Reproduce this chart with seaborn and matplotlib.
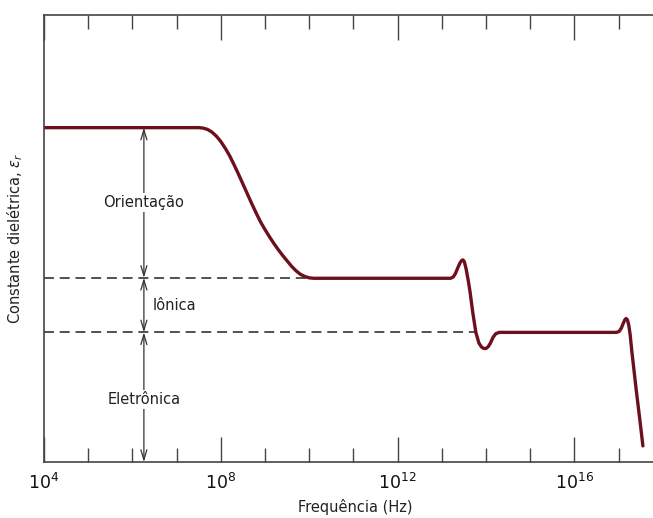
import numpy as np
import pandas as pd
import matplotlib
matplotlib.use("Agg")
import matplotlib.pyplot as plt
import matplotlib.ticker as mticker
import seaborn as sns

# ---- data (log10 frequency, dielectric constant in arbitrary units) ----
log_freq = [4.0, 7.40, 7.50, 7.60, 7.70, 7.80, 7.90, 8.00, 8.10, 8.20, 8.30, 8.40, 8.50,
            8.60, 8.70, 8.80, 8.90, 9.00, 9.10, 9.20, 9.30, 9.40, 9.50, 9.60, 9.70,
            9.80, 9.90, 10.00, 10.10,
            13.20, 13.26, 13.31, 13.36, 13.41, 13.45, 13.48, 13.51, 13.55, 13.60, 13.64,
            13.70, 13.77, 13.84, 13.90, 13.95, 14.00, 14.05, 14.10, 14.16, 14.22, 14.30,
            16.95, 17.01, 17.06, 17.10, 17.14, 17.17, 17.20, 17.23, 17.26, 17.30, 17.40,
            17.48, 17.55]
eps_r = [74.8, 74.8, 74.8, 74.7, 74.4, 73.8, 72.9, 71.7, 70.2, 68.5, 66.5, 64.4, 62.2,
         60.0, 57.8, 55.7, 53.7, 52.0, 50.4, 48.9, 47.5, 46.2, 45.0, 43.8, 42.8,
         42.0, 41.5, 41.2, 41.1,
         41.1, 41.4, 42.2, 43.4, 44.5, 45.1, 45.2, 44.8, 43.2, 40.5, 38.0,
         33.5, 29.0, 26.6, 25.7, 25.4, 25.4, 25.8, 26.6, 27.9, 28.7, 29.0,
         29.0, 29.2, 29.9, 30.9, 31.8, 32.1, 31.8, 30.6, 28.6, 24.7, 16.0,
         9.5, 3.6]

levels = [74.8, 41.2, 29.0, 0.0]              # orientation / ionic / electronic boundaries
dashed_end_log = [10.0, 13.77]               # where the dashed levels meet the curve
mechanisms = ["Orientação", "Iônica", "Eletrônica"]
arrow_log = 6.26
major_ticks_log = [4, 8, 12, 16]
x_label = "Frequência (Hz)"
y_label = r"Constante dielétrica, $\epsilon_r$"

df = pd.DataFrame({"freq": np.power(10.0, log_freq), "eps": eps_r})

sns.set_theme(style="white")
plt.rcParams["font.family"] = ["DejaVu Sans"]
plt.rcParams["mathtext.fontset"] = "dejavusans"

W, H = 653, 518
fig = plt.figure(figsize=(W / 100, H / 100), dpi=100)
ax = fig.add_axes([44 / W, 1 - 462 / H, (W - 44) / W, (462 - 15) / H])

line_color = "#6e0f1e"
sns.lineplot(data=df, x="freq", y="eps", ax=ax, color=line_color, linewidth=2.4,
             estimator=None, sort=False, solid_joinstyle="round", solid_capstyle="round")

ax.set_xscale("log")
ax.set_xlim(10 ** 4, 10 ** (4 + (W - 44) / 44.2))
ax.set_ylim(0, 100)

# dashed level lines
for lvl, xe in zip(levels[1:3], dashed_end_log):
    ax.plot([10 ** 4, 10 ** xe], [lvl, lvl], color="#222222", lw=1.1,
            linestyle=(0, (6.5, 3.8)), zorder=1)

# double-headed arrows
ax_x = 10 ** arrow_log
for top, bot in zip(levels[:-1], levels[1:]):
    ax.annotate("", xy=(ax_x, bot), xytext=(ax_x, top),
                arrowprops=dict(arrowstyle="<->,head_length=0.6,head_width=0.18",
                                color="#333333", lw=0.9, shrinkA=0, shrinkB=0),
                zorder=2)

# mechanism labels
mid = [(levels[i] + levels[i + 1]) / 2 for i in range(3)]
txt_kw = dict(fontsize=10.5, color="#222222", va="center", zorder=3)
ax.text(ax_x, mid[0], mechanisms[0], ha="center",
        bbox=dict(facecolor="white", edgecolor="none", pad=1.5), **txt_kw)
ax.text(10 ** (arrow_log + 0.2), mid[1], mechanisms[1], ha="left", **txt_kw)
ax.text(ax_x, mid[2] - 0.5, mechanisms[2], ha="center",
        bbox=dict(facecolor="white", edgecolor="none", pad=1.5), **txt_kw)

# ticks
ax.xaxis.set_major_locator(mticker.FixedLocator([10.0 ** k for k in major_ticks_log]))
ax.xaxis.set_minor_locator(mticker.FixedLocator([10.0 ** k for k in range(4, 18)]))
ax.xaxis.set_major_formatter(mticker.FuncFormatter(lambda v, p: r"$10^{%d}$" % round(np.log10(v))))
ax.xaxis.set_minor_formatter(mticker.NullFormatter())
ax.tick_params(axis="x", which="both", direction="in", top=True, bottom=True,
               color="#444444", labelsize=12.5, labelcolor="#111111")
ax.tick_params(axis="x", which="major", length=18, width=1.0, pad=8)
ax.tick_params(axis="x", which="minor", length=10, width=1.0)
ax.set_yticks([])

for s in ["left", "top", "bottom"]:
    ax.spines[s].set_visible(True)
    ax.spines[s].set_color("#444444")
    ax.spines[s].set_linewidth(1.2)
ax.spines["right"].set_visible(False)

ax.set_xlabel(x_label, fontsize=10.5, color="#222222")
ax.set_ylabel(y_label, fontsize=10.5, color="#222222")
ax.xaxis.set_label_coords((355 - 44) / (W - 44), -(499 - 462) / (462 - 15))
ax.yaxis.set_label_coords(-(44 - 25) / (W - 44), 0.5)

fig.savefig("out.png", dpi=100, facecolor="white")
